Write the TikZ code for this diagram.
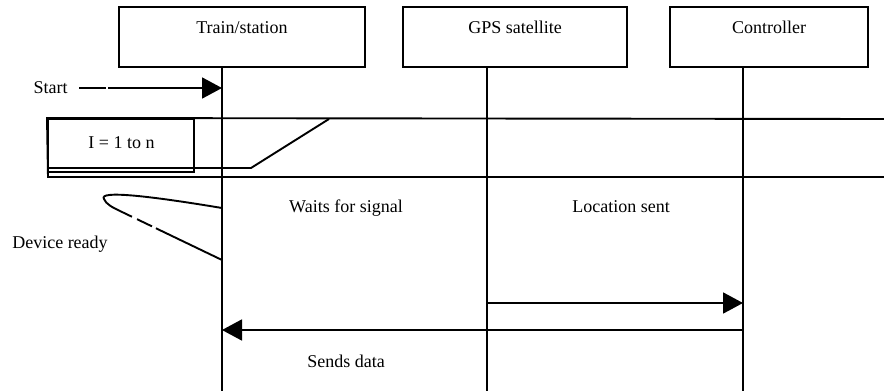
\documentclass[tikz,border=0pt]{standalone}
\usepackage{fontspec}
\setmainfont{Liberation Serif}
\usetikzlibrary{positioning}
\usetikzlibrary{calc,arrows.meta}

\begin{document}
\begin{tikzpicture}[
            x=1pt, y=-1pt,
            font=\fontsize{18}{20}\selectfont,
            line width=1.9pt,
            headbox/.style={rectangle, draw=black, line width=2pt, inner sep=0pt, minimum height=60pt},
            lifeline/.style={line width=1.9pt},
            msg/.style={line width=1.9pt, -{Triangle[length=20pt, width=21pt]}},
            txt/.style={anchor=base, inner sep=0pt},
        ]
            \useasboundingbox (0,0) rectangle (884,391);
            % Nodes
            \node[headbox, minimum width=246pt] (train) at (242,37) {};
            \node[headbox, minimum width=224pt] (gps) at (515,37) {};
            \node[headbox, minimum width=198pt] (ctrl) at (769,37) {};
            \node[txt] (trainname) at ($(train.north)+(0,27)$) {Train/station};
            \node[txt] (gpsname) at ($(gps.north)+(0,27)$) {GPS satellite};
            \node[txt] (ctrlname) at ($(ctrl.north)+(0,27)$) {Controller};
            \node[txt] (start) at (50.5,93) {Start};
            \node[draw, line width=2pt, inner sep=0pt, minimum width=146pt, minimum height=53pt] (loop) at (121,145.5) {};
            \node[txt] (looptxt) at (121.5,148) {I = 1 to n};
            \node[txt] (dev) at (60,248) {Device ready};
            \node[txt] (waits) at (346,212) {Waits for signal};
            \node[txt] (locsent) at (621,212) {Location sent};
            \node[txt] (sends) at (346,367) {Sends data};
            \coordinate (trainend) at (222,391);
            \coordinate (gpsend) at (487,391);
            \coordinate (ctrlend) at (743,391);
            \coordinate (devtop) at (222,208);
            \coordinate (devbot) at (222,260);
%
%            % Lines
            \draw[lifeline] (train.south -| trainend) -- (trainend);
            \draw[lifeline] (gps.south -| gpsend) -- (gpsend);
            \draw[lifeline] (ctrl.south -| ctrlend) -- (ctrlend);
            \draw[msg, shorten <=11pt, dash pattern=on 27pt off 2pt on 300pt] (start.east |- 0,88) -- (trainend |- 0,88);
            \draw (884,119) -- (loop.north west) -- (48,177) -- (884,177);
            \draw (loop.west |- 0,168) -- (251,168) -- (329,119);
            \draw (devtop) .. controls (150,196) and (98,190) .. (104,199) .. controls (106,204) and (112,207.2) .. (120,211);
            \draw[dash pattern=on 13.3pt off 5.6pt on 16.6pt off 4.4pt on 200pt] (120,211) -- (devbot);
            \draw[msg] (gpsend |- 0,303) -- (ctrlend |- 0,303);
            \draw[msg] (ctrlend |- 0,330) -- (trainend |- 0,330);
        \end{tikzpicture}
\end{document}
